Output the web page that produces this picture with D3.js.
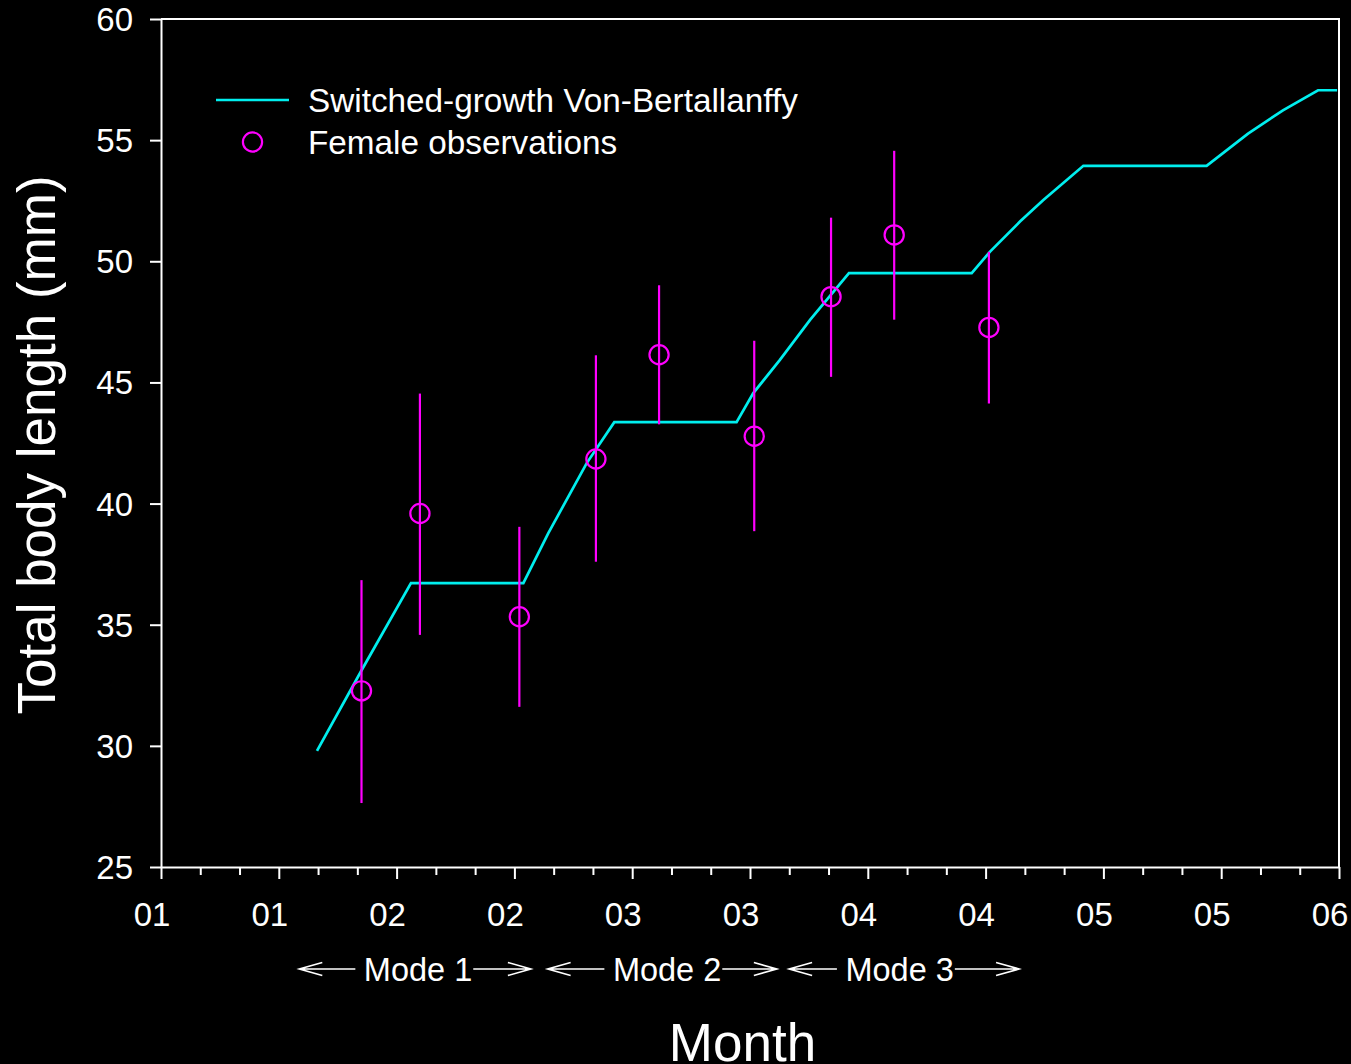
<!DOCTYPE html>
<html>
<head>
<meta charset="utf-8">
<script src="https://cdn.jsdelivr.net/npm/d3@7"></script>
<style>
  body { margin: 0; background: #000; }
  svg { display: block; }
</style>
</head>
<body>
<main></main>
<script>
// x is in months since the start of January
const monthTicks = [0, 0.5, 1, 1.5, 2, 2.5, 3, 3.5, 4, 4.5, 5];
const monthLabels = ["01", "01", "02", "02", "03", "03", "04", "04", "05", "05", "06"];
const lengthTicks = [25, 30, 35, 40, 45, 50, 55, 60];

// Switched-growth Von-Bertallanffy curve
const curveMonth  = [0.662, 0.852, 1.061, 1.538, 1.644, 1.807, 1.924, 2.443, 2.514, 2.627, 2.755, 2.920,
                     3.441, 3.519, 3.646, 3.744, 3.915, 4.438, 4.614, 4.762, 4.911, 4.992];
const curveLength = [29.79, 33.13, 36.72, 36.72, 38.78, 41.67, 43.36, 43.36, 44.56, 45.93, 47.58, 49.51,
                     49.51, 50.40, 51.64, 52.52, 53.94, 53.94, 55.27, 56.23, 57.06, 57.06];

// Female observations: mean and error bar ends
const obsMonth = [0.851, 1.099, 1.521, 1.846, 2.114, 2.518, 2.844, 3.112, 3.514];
const obsMean  = [32.27, 39.59, 35.33, 41.84, 46.14, 42.78, 48.54, 51.09, 47.27];
const obsLow   = [27.64, 34.58, 31.61, 37.60, 43.27, 38.86, 45.23, 47.59, 44.13];
const obsHigh  = [36.84, 44.54, 39.04, 46.12, 49.01, 46.72, 51.80, 54.56, 50.39];

// growth mode annotations below the axis
const modeNames  = ["Mode 1", "Mode 2", "Mode 3"];
const modeStart  = [0.587, 1.641, 2.666];
const modeTextAt = [0.861, 1.918, 2.905];
const modeEnd    = [1.570, 2.614, 3.642];

const width = 1351, height = 1064;
const margin = { top: 19, right: 12, bottom: 197, left: 161 };
const lineColor = "#00EEEE";
const obsColor = "#FF00FF";
const fontFamily = "'Liberation Sans', Arial, sans-serif";

const svg = d3.select("main")
    .append("svg")
    .attr("width", width)
    .attr("height", height)
    .style("font-family", fontFamily);

svg.append("rect")
    .attr("width", width)
    .attr("height", height)
    .attr("fill", "#000");

const x = d3.scaleLinear()
    .domain([0, 5])
    .range([margin.left, width - margin.right]);

const y = d3.scaleLinear()
    .domain([25, 60])
    .range([height - margin.bottom, margin.top]);

const plotBottom = y(25), plotTop = y(60);

// Frame top and right
svg.append("path")
    .attr("d", `M${x(0)},${plotTop}H${x(5)}V${plotBottom}`)
    .attr("fill", "none")
    .attr("stroke", "#fff")
    .attr("stroke-width", 2);

// minor x ticks (every 1/6 month)
const minorTicks = d3.range(0, 31).map(i => i / 6).filter(v => Math.abs(v * 2 - Math.round(v * 2)) > 1e-6);
svg.append("g")
    .attr("transform", `translate(0,${plotBottom})`)
    .call(d3.axisBottom(x).tickValues(minorTicks).tickSize(8).tickSizeOuter(0).tickFormat(""))
    .call(g => g.select(".domain").remove())
    .call(g => g.selectAll("line").attr("stroke", "#fff").attr("stroke-width", 2));

// major x axis
svg.append("g")
    .attr("transform", `translate(0,${plotBottom})`)
    .call(d3.axisBottom(x).tickValues(monthTicks).tickSize(12).tickSizeOuter(0)
        .tickFormat((d, i) => monthLabels[i]))
    .call(g => g.select(".domain").attr("stroke", "#fff").attr("stroke-width", 2))
    .call(g => g.selectAll("line").attr("stroke", "#fff").attr("stroke-width", 2))
    .call(g => g.selectAll("text")
        .attr("fill", "#fff")
        .attr("font-size", 33)
        .attr("font-family", fontFamily)
        .attr("x", -9.5)
        .attr("y", 59)
        .attr("dy", null));

// y axis
svg.append("g")
    .attr("transform", `translate(${x(0)},0)`)
    .call(d3.axisLeft(y).tickValues(lengthTicks).tickSize(11).tickSizeOuter(0).tickFormat(d3.format("d")))
    .call(g => g.select(".domain").attr("stroke", "#fff").attr("stroke-width", 2))
    .call(g => g.selectAll("line").attr("stroke", "#fff").attr("stroke-width", 2))
    .call(g => g.selectAll("text")
        .attr("fill", "#fff")
        .attr("font-size", 33)
        .attr("font-family", fontFamily)
        .attr("x", -28)
        .attr("dy", "0.35em"));

// growth curve
const curveData = curveMonth.map((m, i) => [m, curveLength[i]]);
svg.append("path")
    .datum(curveData)
    .attr("d", d3.line().x(d => x(d[0])).y(d => y(d[1])))
    .attr("fill", "none")
    .attr("stroke", lineColor)
    .attr("stroke-width", 2.7)
    .attr("stroke-linejoin", "miter");

// observations
const obs = obsMonth.map((m, i) => ({ m: m, mean: obsMean[i], lo: obsLow[i], hi: obsHigh[i] }));
const obsG = svg.append("g");
obsG.selectAll("line")
    .data(obs)
    .join("line")
    .attr("x1", d => x(d.m))
    .attr("x2", d => x(d.m))
    .attr("y1", d => y(d.lo))
    .attr("y2", d => y(d.hi))
    .attr("stroke", obsColor)
    .attr("stroke-width", 2.2);
obsG.selectAll("circle")
    .data(obs)
    .join("circle")
    .attr("cx", d => x(d.m))
    .attr("cy", d => y(d.mean))
    .attr("r", 9.6)
    .attr("fill", "none")
    .attr("stroke", obsColor)
    .attr("stroke-width", 2.2);

// legend
const legend = svg.append("g");
legend.append("line")
    .attr("x1", 216).attr("x2", 289)
    .attr("y1", 100).attr("y2", 100)
    .attr("stroke", lineColor)
    .attr("stroke-width", 2.7);
legend.append("circle")
    .attr("cx", 252.5).attr("cy", 142)
    .attr("r", 9.6)
    .attr("fill", "none")
    .attr("stroke", obsColor)
    .attr("stroke-width", 2.2);
legend.selectAll("text")
    .data(["Switched-growth Von-Bertallanffy", "Female observations"])
    .join("text")
    .attr("x", 308)
    .attr("y", (d, i) => 112 + i * 41.5)
    .attr("fill", "#fff")
    .attr("font-size", 33.3)
    .text(d => d);

// mode annotations
const arrowY = 969;
function arrow(g, xFrom, xTo) {
    // open arrow head pointing at xTo
    const dir = xTo > xFrom ? 1 : -1;
    g.append("path")
        .attr("d", `M${xFrom},${arrowY}H${xTo}M${xTo - dir * 23},${arrowY - 6.5}L${xTo},${arrowY}L${xTo - dir * 23},${arrowY + 6.5}`)
        .attr("fill", "none")
        .attr("stroke", "#fff")
        .attr("stroke-width", 1.6);
}
const modeG = svg.append("g");
modeNames.forEach((name, i) => {
    const x0 = x(modeStart[i]), x1 = x(modeEnd[i]);
    const textX = x(modeTextAt[i]);
    const t = modeG.append("text")
        .attr("x", textX)
        .attr("y", 981)
        .attr("fill", "#fff")
        .attr("font-size", 32.5)
        .text(name);
    const len = t.node().getComputedTextLength();
    arrow(modeG, textX - 8.5, x0);
    arrow(modeG, textX + len + 1, x1);
});

// axis titles
svg.append("text")
    .attr("transform", `translate(55,445) rotate(-90)`)
    .attr("text-anchor", "middle")
    .attr("fill", "#fff")
    .attr("font-size", 53)
    .text("Total body length (mm)");

svg.append("text")
    .attr("x", 742.5)
    .attr("y", 1061)
    .attr("text-anchor", "middle")
    .attr("fill", "#fff")
    .attr("font-size", 53)
    .text("Month");
</script>
</body>
</html>
